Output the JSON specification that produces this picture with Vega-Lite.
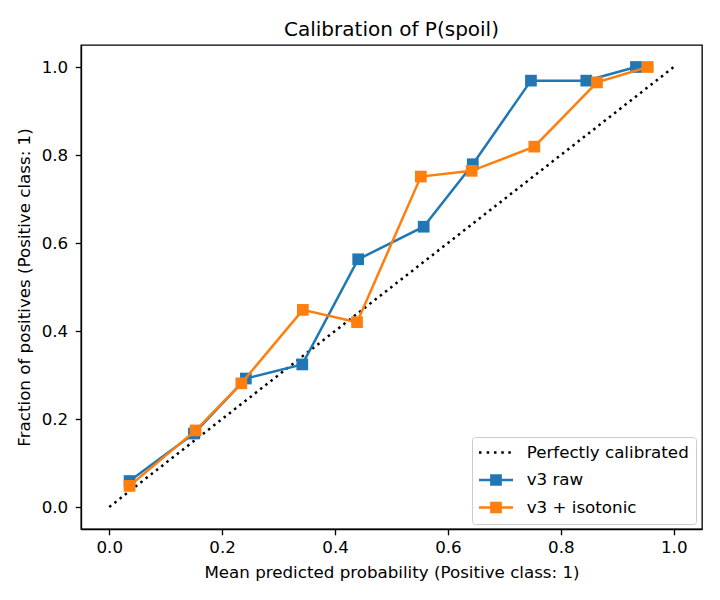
{
  "$schema": "https://vega.github.io/schema/vega-lite/v6.json",
  "width": 621,
  "height": 484,
  "autosize": {"type": "none"},
  "padding": {"left": 81, "top": 45, "right": 18, "bottom": 71},
  "background": "white",
  "title": {
    "text": "Calibration of P(spoil)",
    "font": "DejaVu Sans",
    "fontSize": 20,
    "fontWeight": "normal",
    "color": "black",
    "anchor": "middle",
    "baseline": "bottom",
    "offset": 6,
    "dy": 21
  },
  "config": {
    "font": "DejaVu Sans",
    "view": {"stroke": "black", "strokeWidth": 1.33},
    "axis": {
      "grid": false,
      "domainColor": "black",
      "domainWidth": 1.33,
      "tickColor": "black",
      "tickWidth": 1.33,
      "tickSize": 5.8,
      "labelFont": "DejaVu Sans",
      "labelFontSize": 16.7,
      "labelColor": "black",
      "labelFlush": false,
      "labelPadding": 5,
      "titleFont": "DejaVu Sans",
      "titleFontSize": 16.7,
      "titleFontWeight": "normal",
      "titleColor": "black"
    }
  },
  "datasets": {
    "curves": [
      {"series": "Perfectly calibrated", "p": 0.0, "frac": 0.0},
      {"series": "Perfectly calibrated", "p": 1.0, "frac": 1.0},
      {"series": "v3 raw", "p": 0.036, "frac": 0.059},
      {"series": "v3 raw", "p": 0.150, "frac": 0.167},
      {"series": "v3 raw", "p": 0.242, "frac": 0.292},
      {"series": "v3 raw", "p": 0.342, "frac": 0.324},
      {"series": "v3 raw", "p": 0.441, "frac": 0.563},
      {"series": "v3 raw", "p": 0.557, "frac": 0.637},
      {"series": "v3 raw", "p": 0.644, "frac": 0.779},
      {"series": "v3 raw", "p": 0.747, "frac": 0.969},
      {"series": "v3 raw", "p": 0.845, "frac": 0.969},
      {"series": "v3 raw", "p": 0.933, "frac": 1.0},
      {"series": "v3 + isotonic", "p": 0.036, "frac": 0.048},
      {"series": "v3 + isotonic", "p": 0.153, "frac": 0.174},
      {"series": "v3 + isotonic", "p": 0.234, "frac": 0.281},
      {"series": "v3 + isotonic", "p": 0.343, "frac": 0.448},
      {"series": "v3 + isotonic", "p": 0.439, "frac": 0.420},
      {"series": "v3 + isotonic", "p": 0.552, "frac": 0.751},
      {"series": "v3 + isotonic", "p": 0.642, "frac": 0.764},
      {"series": "v3 + isotonic", "p": 0.753, "frac": 0.819},
      {"series": "v3 + isotonic", "p": 0.864, "frac": 0.965},
      {"series": "v3 + isotonic", "p": 0.954, "frac": 1.0}
    ]
  },
  "data": {"name": "curves"},
  "encoding": {
    "x": {
      "field": "p",
      "type": "quantitative",
      "scale": {"domain": [-0.05, 1.05], "nice": false, "zero": false},
      "axis": {"values": [0, 0.2, 0.4, 0.6, 0.8, 1.0], "format": ".1f", "title": "Mean predicted probability (Positive class: 1)", "titlePadding": 8}
    },
    "y": {
      "field": "frac",
      "type": "quantitative",
      "scale": {"domain": [-0.05, 1.05], "nice": false, "zero": false},
      "axis": {"values": [0, 0.2, 0.4, 0.6, 0.8, 1.0], "format": ".1f", "title": "Fraction of positives (Positive class: 1)", "labelPadding": 7.5, "titlePadding": 8}
    },
    "color": {
      "field": "series",
      "type": "nominal",
      "scale": {"domain": ["Perfectly calibrated", "v3 raw", "v3 + isotonic"], "range": ["black", "#1f77b4", "#ff7f0e"]},
      "legend": null
    }
  },
  "resolve": {"legend": {"color": "independent", "shape": "independent"}},
  "layer": [
    {
      "transform": [{"filter": {"field": "series", "equal": "legend only"}}],
      "mark": {"type": "point", "filled": true, "opacity": 1},
      "encoding": {
        "color": {
          "field": "series",
          "type": "nominal",
          "scale": {"domain": ["Perfectly calibrated", "v3 raw", "v3 + isotonic"], "range": ["black", "#1f77b4", "#ff7f0e"]},
          "legend": {
            "title": null,
            "orient": "none",
            "legendX": 391,
            "legendY": 392,
            "padding": 7,
            "rowPadding": 9.5,
            "symbolSize": 289,
            "symbolOpacity": 1,
            "symbolStrokeWidth": 0,
            "labelOffset": 30.7,
            "labelLimit": 400,
            "labelFont": "DejaVu Sans",
            "labelFontSize": 16.7,
            "labelColor": "black",
            "strokeColor": "#cccccc",
            "fillColor": "white",
            "cornerRadius": 3
          }
        },
        "shape": {
          "field": "series",
          "type": "nominal",
          "scale": {
            "domain": ["Perfectly calibrated", "v3 raw", "v3 + isotonic"],
            "range": [
              "M-1,-0.147h0.294v0.294h-0.294Z M-0.094,-0.147h0.294v0.294h-0.294Z M0.765,-0.147h0.294v0.294h-0.294Z M1.62,-0.147h0.294v0.294h-0.294Z M2.45,-0.147h0.294v0.294h-0.294Z",
              "M-1,-0.147H3V0.147H-1Z M0.31,-0.69H1.69V0.69H0.31Z",
              "M-1,-0.147H3V0.147H-1Z M0.31,-0.69H1.69V0.69H0.31Z"
            ]
          },
          "legend": {
            "title": null,
            "orient": "none",
            "legendX": 391,
            "legendY": 392,
            "padding": 7,
            "rowPadding": 9.5,
            "symbolSize": 289,
            "symbolOpacity": 1,
            "symbolStrokeWidth": 0,
            "labelOffset": 30.7,
            "labelLimit": 400,
            "labelFont": "DejaVu Sans",
            "labelFontSize": 16.7,
            "labelColor": "black",
            "strokeColor": "#cccccc",
            "fillColor": "white",
            "cornerRadius": 3
          }
        }
      }
    },
    {
      "transform": [{"filter": {"field": "series", "equal": "Perfectly calibrated"}}],
      "mark": {"type": "line", "strokeWidth": 2.5, "strokeDash": [2.5, 4.1]}
    },
    {
      "transform": [{"filter": {"field": "series", "equal": "v3 raw"}}],
      "mark": {"type": "line", "strokeWidth": 2.5}
    },
    {
      "transform": [{"filter": {"field": "series", "equal": "v3 raw"}}],
      "mark": {"type": "point", "shape": "square", "filled": true, "size": 137, "opacity": 1}
    },
    {
      "transform": [{"filter": {"field": "series", "equal": "v3 + isotonic"}}],
      "mark": {"type": "line", "strokeWidth": 2.5}
    },
    {
      "transform": [{"filter": {"field": "series", "equal": "v3 + isotonic"}}],
      "mark": {"type": "point", "shape": "square", "filled": true, "size": 137, "opacity": 1}
    }
  ]
}
